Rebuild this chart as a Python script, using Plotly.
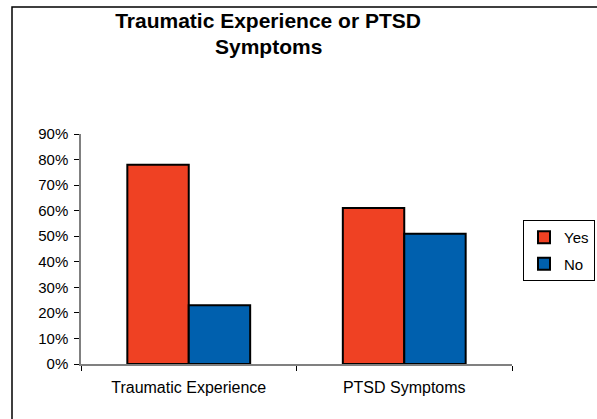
import plotly.graph_objects as go

categories = ["Traumatic Experience", "PTSD Symptoms"]
yes_values = [0.78, 0.61]
no_values = [0.23, 0.51]
series_names = ["Yes", "No"]
y_tick_values = [0, 0.1, 0.2, 0.3, 0.4, 0.5, 0.6, 0.7, 0.8, 0.9]
y_tick_labels = ["0%", "10%", "20%", "30%", "40%", "50%", "60%", "70%", "80%", "90%"]
title_line1 = "Traumatic Experience or PTSD"
title_line2 = "Symptoms"

RED = "#EF4123"
BLUE = "#0060AE"
FONT = "Arial, Liberation Sans, sans-serif"

fig = go.Figure()
fig.add_trace(go.Bar(x=categories, y=yes_values, name=series_names[0], legendgroup="a",
                     marker=dict(color=RED, line=dict(color="black", width=2))))
fig.add_trace(go.Bar(x=categories, y=no_values, name=series_names[1], legendgroup="b",
                     marker=dict(color=BLUE, line=dict(color="black", width=2))))

W, H = 597, 419
L, R, T, B = 81, 85, 134, 55
pw = W - L - R
ph = H - T - B

fig.update_layout(
    width=W, height=H,
    margin=dict(l=L, r=R, t=T, b=B, autoexpand=False),
    paper_bgcolor="white", plot_bgcolor="white",
    font=dict(family=FONT, color="black", size=14),
    title=dict(text=title_line1,
               font=dict(family=FONT, size=21, weight="bold", color="black"),
               x=0.449, xanchor="center", xref="container",
               y=1 - 21 / H, yanchor="middle", yref="container"),
    annotations=[dict(text="<b>" + title_line2 + "</b>", xref="paper", yref="paper",
                      x=(268 - L) / pw, y=(364 - 47) / ph, xanchor="center", yanchor="middle",
                      showarrow=False, font=dict(family=FONT, size=21, color="black"))],
    barmode="group", bargap=0.43, bargroupgap=0,
    showlegend=True,
    legend=dict(x=(523 - L) / pw, y=(364 - 220) / ph, xanchor="left", yanchor="top",
                bordercolor="black", borderwidth=1, bgcolor="white",
                font=dict(family=FONT, size=15), itemwidth=30,
                traceorder="grouped", tracegroupgap=4),
    xaxis=dict(showline=True, linecolor="#808080", linewidth=1.5,
               ticks="outside", tickson="boundaries", ticklen=5, tickcolor="black",
               ticklabelstandoff=8,
               tickfont=dict(family=FONT, size=16), showgrid=False, zeroline=False),
    yaxis=dict(range=[0, 0.9], tickvals=y_tick_values, ticktext=y_tick_labels,
               showline=True, linecolor="#808080", linewidth=1.5,
               ticks="outside", ticklen=5, tickcolor="black",
               ticklabelstandoff=3,
               tickfont=dict(family=FONT, size=15), showgrid=False, zeroline=False),
    shapes=[dict(type="rect", xref="paper", yref="paper",
                 x0=(12 - L) / pw, x1=(W + 20 - L) / pw,
                 y0=(364 - (H + 20)) / ph, y1=(364 - 7) / ph,
                 line=dict(color="black", width=1.5), layer="below")],
)

fig.write_html("out.html", config={"displayModeBar": False},
               post_script="document.body.style.margin='0';")
